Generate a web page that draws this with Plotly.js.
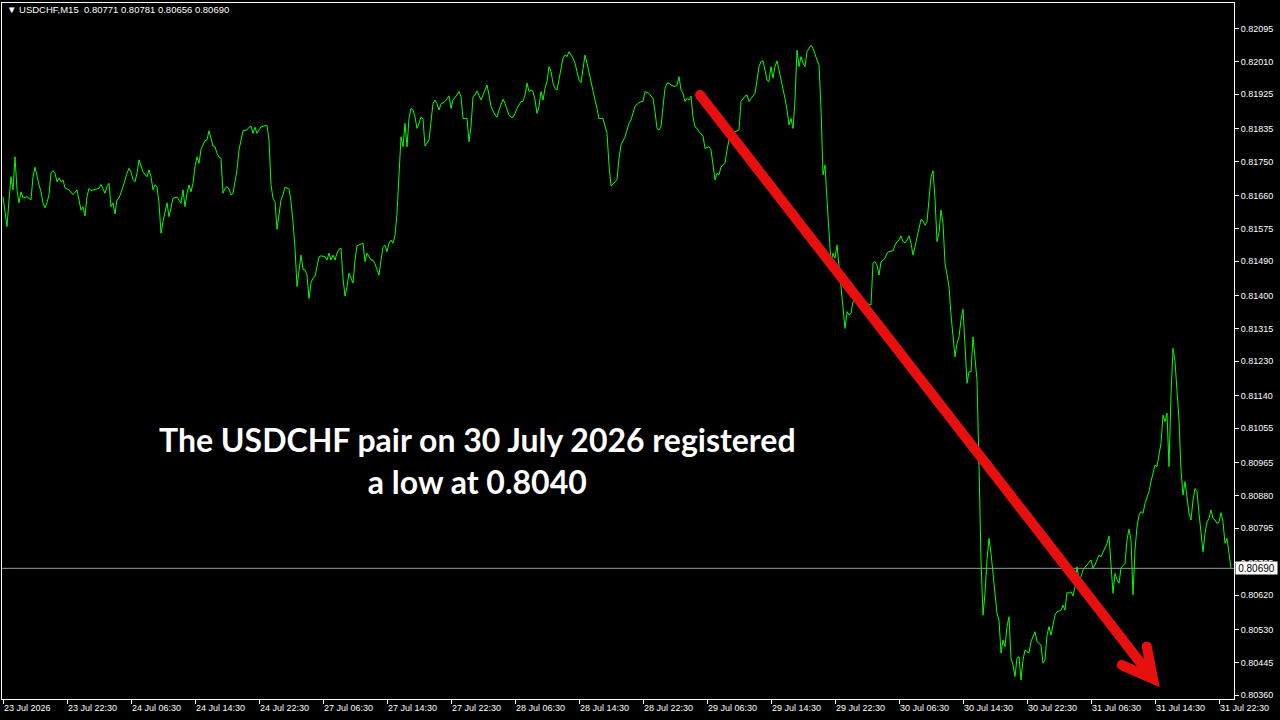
<!DOCTYPE html>
<html>
<head>
<meta charset="utf-8">
<script src="https://cdn.plot.ly/plotly-3.0.1.min.js"></script>
<style>html,body{margin:0;padding:0;background:#000;}#chart{width:1280px;height:720px;}</style>
</head>
<body>
<div id="chart"></div>
<script>
// M15 bar index (0 = first visible bar) and close price
const bars = [0,1,2,3,4,5,6,7,8,9,10,12,14,15,16,18,19,20,21,22,23,24,25,26,27,28,29,30,31,33,35,37,38,39,40,41,42,43,44,46,48,49,50,51,52,53,54,55,56,57,58,59,60,62,63,64,65,66,67,68,69,70,72,73,74,75,76,77,78,79,80,81,82,83,84,85,87,89,90,91,92,93,94,95,96,97,98,99,101,102,103,104,105,106,107,108,109,110,111,112,113,114,115,116,117,118,119,120,122,123,124,125,126,127,128,129,131,132,133,134,135,136,137,138,139,140,141,143,144,145,146,147,148,149,150,151,152,153,154,155,156,157,158,159,161,162,163,164,165,166,167,168,169,170,171,172,173,174,175,176,177,179,180,181,182,184,185,186,187,188,189,190,191,192,193,194,195,196,197,198,199,200,201,202,203,204,205,206,207,208,209,210,211,213,214,215,216,217,218,219,221,222,223,224,225,227,228,229,230,231,232,233,234,235,236,237,238,239,240,241,242,243,244,246,247,248,249,250,251,252,253,254,255,256,257,259,260,261,262,263,264,265,266,267,268,269,270,271,272,273,274,275,276,277,278,279,280,281,282,283,284,285,286,287,288,289,290,291,292,293,294,295,296,297,298,300,301,302,303,304,306,307,308,309,311,312,313,314,315,316,318,319,320,321,323,324,325,326,327,328,329,330,331,332,333,334,336,337,338,339,340,341,342,343,344,345,346,347,348,350,351,353,354,355,356,357,358,359,361,362,363,364,366,368,369,371,372,373,374,376,377,378,379,380,381,382,383,384,385,386,387,388,389,390,391,392,393,394,395,396,397,398,399,400,401,402,403,404,405,406,407,408,409,410,411,412,413,414,415,416,417,418,419,420,421,422,423,424,425,426,428,429,432,434,435,436,437,438,439,441,442,443,445,446,447,448,449,450,451,452,453,454,455,456,457,458,459,460,461,462,463,464,465,466,467,468,469,470,471,472,473,474,475,476,477,478,479,480,481,482,483,484,485,486,487,488,489,490,491,492,493,494,495,496,497,498,499,500,501,502,503,504,505,506,507,508,509,510,511,512,513,514,516,517,519,520,521,522,523,524,525,526,527,529,530,531,532,533,534,535,536,537,538,539,540,542,543,544,545,546,547,548,549,551,552,553,554,555,556,557,558,559,561,562,563,564,565,566,567,568,569,570,571,572,573,574,575,576,577,578,579,580,581,582,583,584,585,586,587,588,589,590,591,592,593,594,595,596,597,598,599,600,601,602,603,604,605,606,607,608,609,610,611,612,613,614];
const closes = [0.81658,0.81616,0.81580,0.81650,0.81710,0.81676,0.81762,0.81676,0.81642,0.81671,0.81655,0.81658,0.81650,0.81710,0.81735,0.81689,0.81671,0.81642,0.81629,0.81642,0.81663,0.81720,0.81726,0.81719,0.81697,0.81707,0.81697,0.81702,0.81681,0.81676,0.81663,0.81676,0.81645,0.81623,0.81632,0.81608,0.81658,0.81680,0.81674,0.81678,0.81680,0.81690,0.81678,0.81667,0.81684,0.81693,0.81632,0.81642,0.81613,0.81650,0.81654,0.81667,0.81684,0.81719,0.81732,0.81722,0.81703,0.81697,0.81719,0.81754,0.81738,0.81723,0.81710,0.81728,0.81710,0.81676,0.81689,0.81684,0.81641,0.81563,0.81593,0.81615,0.81642,0.81606,0.81628,0.81654,0.81657,0.81641,0.81676,0.81632,0.81667,0.81689,0.81671,0.81693,0.81736,0.81762,0.81745,0.81782,0.81804,0.81806,0.81830,0.81810,0.81790,0.81788,0.81771,0.81761,0.81758,0.81667,0.81680,0.81684,0.81678,0.81663,0.81667,0.81697,0.81728,0.81780,0.81806,0.81830,0.81832,0.81839,0.81842,0.81823,0.81839,0.81823,0.81832,0.81840,0.81843,0.81844,0.81806,0.81689,0.81654,0.81645,0.81573,0.81615,0.81650,0.81663,0.81683,0.81678,0.81645,0.81593,0.81524,0.81424,0.81467,0.81506,0.81469,0.81467,0.81454,0.81393,0.81434,0.81446,0.81450,0.81480,0.81502,0.81504,0.81502,0.81493,0.81511,0.81493,0.81506,0.81493,0.81511,0.81521,0.81524,0.81446,0.81399,0.81424,0.81459,0.81446,0.81433,0.81493,0.81530,0.81535,0.81537,0.81489,0.81511,0.81493,0.81493,0.81483,0.81467,0.81454,0.81493,0.81526,0.81532,0.81515,0.81537,0.81545,0.81537,0.81558,0.81615,0.81702,0.81814,0.81788,0.81849,0.81788,0.81862,0.81888,0.81884,0.81866,0.81836,0.81849,0.81866,0.81860,0.81790,0.81806,0.81847,0.81901,0.81910,0.81900,0.81884,0.81900,0.81906,0.81914,0.81921,0.81888,0.81910,0.81923,0.81932,0.81919,0.81862,0.81862,0.81862,0.81801,0.81840,0.81919,0.81923,0.81934,0.81923,0.81910,0.81923,0.81938,0.81949,0.81923,0.81893,0.81871,0.81865,0.81884,0.81897,0.81912,0.81901,0.81884,0.81871,0.81865,0.81865,0.81875,0.81888,0.81906,0.81906,0.81923,0.81954,0.81932,0.81936,0.81932,0.81910,0.81875,0.81893,0.81932,0.81910,0.81940,0.81958,0.81997,0.81984,0.81954,0.81940,0.81936,0.81967,0.81988,0.82019,0.82027,0.82023,0.82036,0.82027,0.82019,0.82006,0.81980,0.81962,0.81955,0.81997,0.82027,0.82006,0.81980,0.81954,0.81936,0.81910,0.81888,0.81862,0.81862,0.81845,0.81823,0.81741,0.81686,0.81697,0.81702,0.81758,0.81793,0.81814,0.81832,0.81849,0.81858,0.81875,0.81894,0.81903,0.81906,0.81906,0.81932,0.81927,0.81919,0.81914,0.81880,0.81836,0.81832,0.81840,0.81893,0.81940,0.81954,0.81954,0.81949,0.81945,0.81949,0.81971,0.81936,0.81927,0.81906,0.81914,0.81910,0.81920,0.81866,0.81840,0.81836,0.81827,0.81816,0.81784,0.81788,0.81780,0.81741,0.81702,0.81719,0.81715,0.81736,0.81745,0.81780,0.81806,0.81832,0.81827,0.81832,0.81906,0.81920,0.81923,0.81906,0.81914,0.81927,0.81962,0.81997,0.82010,0.82012,0.81988,0.81962,0.81958,0.81997,0.81967,0.81997,0.82012,0.81988,0.81971,0.81940,0.81914,0.81884,0.81845,0.81862,0.81836,0.81910,0.82040,0.81997,0.82023,0.82006,0.81997,0.82036,0.82045,0.82053,0.82045,0.82027,0.82014,0.82001,0.81889,0.81715,0.81741,0.81650,0.81571,0.81485,0.81511,0.81498,0.81532,0.81476,0.81433,0.81363,0.81315,0.81359,0.81350,0.81354,0.81385,0.81389,0.81385,0.81380,0.81380,0.81376,0.81485,0.81489,0.81480,0.81454,0.81488,0.81498,0.81511,0.81515,0.81517,0.81532,0.81541,0.81545,0.81556,0.81541,0.81538,0.81545,0.81556,0.81537,0.81506,0.81528,0.81550,0.81576,0.81599,0.81595,0.81584,0.81593,0.81650,0.81709,0.81726,0.81654,0.81541,0.81564,0.81623,0.81589,0.81485,0.81459,0.81424,0.81350,0.81302,0.81241,0.81276,0.81293,0.81337,0.81365,0.81272,0.81172,0.81202,0.81202,0.81293,0.81241,0.81181,0.80957,0.80712,0.80568,0.80625,0.80712,0.80768,0.80729,0.80677,0.80608,0.80573,0.80555,0.80469,0.80503,0.80486,0.80538,0.80564,0.80456,0.80438,0.80408,0.80456,0.80460,0.80399,0.80451,0.80477,0.80473,0.80469,0.80499,0.80525,0.80499,0.80490,0.80443,0.80451,0.80516,0.80538,0.80516,0.80542,0.80568,0.80577,0.80581,0.80594,0.80581,0.80627,0.80625,0.80629,0.80618,0.80642,0.80694,0.80660,0.80668,0.80686,0.80699,0.80707,0.80712,0.80690,0.80699,0.80712,0.80725,0.80720,0.80746,0.80755,0.80774,0.80686,0.80625,0.80677,0.80660,0.80651,0.80691,0.80703,0.80764,0.80792,0.80764,0.80621,0.80738,0.80798,0.80829,0.80838,0.80833,0.80859,0.80872,0.80890,0.80916,0.80942,0.80959,0.80955,0.80985,0.81016,0.81089,0.81072,0.81094,0.80955,0.81142,0.81263,0.81228,0.81155,0.81076,0.80946,0.80881,0.80916,0.80868,0.80833,0.80816,0.80868,0.80898,0.80890,0.80833,0.80790,0.80733,0.80781,0.80811,0.80820,0.80842,0.80820,0.80816,0.80807,0.80811,0.80835,0.80811,0.80755,0.80768,0.80729,0.80690];

// time axis labels and the bar each one belongs to
const timeLabels = ["23 Jul 2026","23 Jul 22:30","24 Jul 06:30","24 Jul 14:30","24 Jul 22:30","27 Jul 06:30","27 Jul 14:30","27 Jul 22:30","28 Jul 06:30","28 Jul 14:30","28 Jul 22:30","29 Jul 06:30","29 Jul 14:30","29 Jul 22:30","30 Jul 06:30","30 Jul 14:30","30 Jul 22:30","31 Jul 06:30","31 Jul 14:30","31 Jul 22:30"];
const labelBars = [0,32,64,96,128,160,192,224,256,288,320,352,384,416,448,480,512,544,576,608];

// price axis labels
const priceLabels = ["0.82095","0.82010","0.81925","0.81835","0.81750","0.81660","0.81575","0.81490","0.81400","0.81315","0.81230","0.81140","0.81055","0.80965","0.80880","0.80795","0.80705","0.80620","0.80530","0.80445","0.80360"];

// header values (last bar OHLC) and current price
const symbol = "USDCHF,M15";
const lastOHLC = ["0.80771","0.80781","0.80656","0.80690"];
const currentPrice = 0.80690;

// arrow endpoints (bar index, price)
const arrowStart = [348.5, 0.81923];
const arrowTip = [575, 0.80402];
const arrowWingA = [559.4, 0.80438];
const arrowWingB = [571.9, 0.80486];

const annotationLines = ["The USDCHF pair on 30 July 2026 registered", "a low at 0.8040"];

const tickFont = {family: "Liberation Sans, Arial, sans-serif", size: 9, color: "#ffffff"};
const red = "#e8100f";

const trace = {
  x: bars, y: closes, type: "scatter", mode: "lines",
  line: {color: "#00ff00", width: 1},
  hoverinfo: "skip"
};

const layout = {
  width: 1280, height: 720,
  margin: {l: 2, r: 46, t: 3, b: 21, pad: 0},
  paper_bgcolor: "#000000", plot_bgcolor: "#000000",
  showlegend: false,
  xaxis: {
    range: [-0.5, 615.5], fixedrange: true,
    showgrid: false, zeroline: false,
    showline: true, mirror: true, linecolor: "#ffffff", linewidth: 1,
    ticks: "outside", ticklen: 4, tickcolor: "#ffffff", tickwidth: 1,
    tickmode: "array", tickvals: labelBars, ticktext: timeLabels,
    ticklabelposition: "outside right",
    tickfont: tickFont, tickangle: 0
  },
  yaxis: {
    range: [0.803496, 0.821627], fixedrange: true, side: "right",
    showgrid: false, zeroline: false,
    showline: true, mirror: true, linecolor: "#ffffff", linewidth: 1,
    ticks: "outside", ticklen: 4, tickcolor: "#ffffff", tickwidth: 1,
    tickmode: "array", tickvals: priceLabels.map(Number), ticktext: priceLabels,
    tickfont: tickFont
  },
  shapes: [
    {type: "line", xref: "paper", x0: 0, x1: 1, yref: "y", y0: currentPrice, y1: currentPrice,
     line: {color: "#8d9aab", width: 1}, layer: "below"},
    {type: "path", xref: "x", yref: "y", layer: "above",
     path: `M ${arrowStart[0]},${arrowStart[1]} L ${arrowTip[0]},${arrowTip[1]} M ${arrowWingA[0]},${arrowWingA[1]} L ${arrowTip[0]},${arrowTip[1]} L ${arrowWingB[0]},${arrowWingB[1]}`,
     line: {color: red, width: 10}},
    {type: "circle", xref: "x", yref: "y", xsizemode: "pixel", ysizemode: "pixel",
     xanchor: arrowStart[0], yanchor: arrowStart[1], x0: -5, x1: 5, y0: -5, y1: 5,
     fillcolor: red, line: {width: 0}, layer: "above"},
    {type: "circle", xref: "x", yref: "y", xsizemode: "pixel", ysizemode: "pixel",
     xanchor: arrowWingA[0], yanchor: arrowWingA[1], x0: -5, x1: 5, y0: -5, y1: 5,
     fillcolor: red, line: {width: 0}, layer: "above"},
    {type: "circle", xref: "x", yref: "y", xsizemode: "pixel", ysizemode: "pixel",
     xanchor: arrowWingB[0], yanchor: arrowWingB[1], x0: -5, x1: 5, y0: -5, y1: 5,
     fillcolor: red, line: {width: 0}, layer: "above"}
  ],
  annotations: [
    {xref: "paper", yref: "paper", x: 0.0025, y: 0.990, xanchor: "left", yanchor: "middle",
     showarrow: false, align: "left",
     text: "\u25BC " + symbol + "\u00A0\u00A0" + lastOHLC.join(" "),
     font: {family: "Liberation Sans, Arial, sans-serif", size: 9.5, color: "#ffffff"}},
    {xref: "paper", yref: "y", x: 1, y: currentPrice, xanchor: "left", yanchor: "middle",
     xshift: 1, showarrow: false, text: currentPrice.toFixed(5),
     bgcolor: "#ffffff", borderpad: 0, width: 41, height: 12, align: "center", valign: "middle",
     font: {family: "Liberation Sans, Arial, sans-serif", size: 10, color: "#000000"}},
    {xref: "paper", yref: "paper", x: 0.3856, y: 0.342, xanchor: "center", yanchor: "middle",
     showarrow: false, align: "center",
     text: annotationLines.join("<br>"),
     font: {family: "Lato, Open Sans, sans-serif", size: 32, weight: 700, color: "#ffffff"}}
  ]
};

Plotly.newPlot("chart", [trace], layout, {displayModeBar: false, staticPlot: true});
</script>
</body>
</html>
